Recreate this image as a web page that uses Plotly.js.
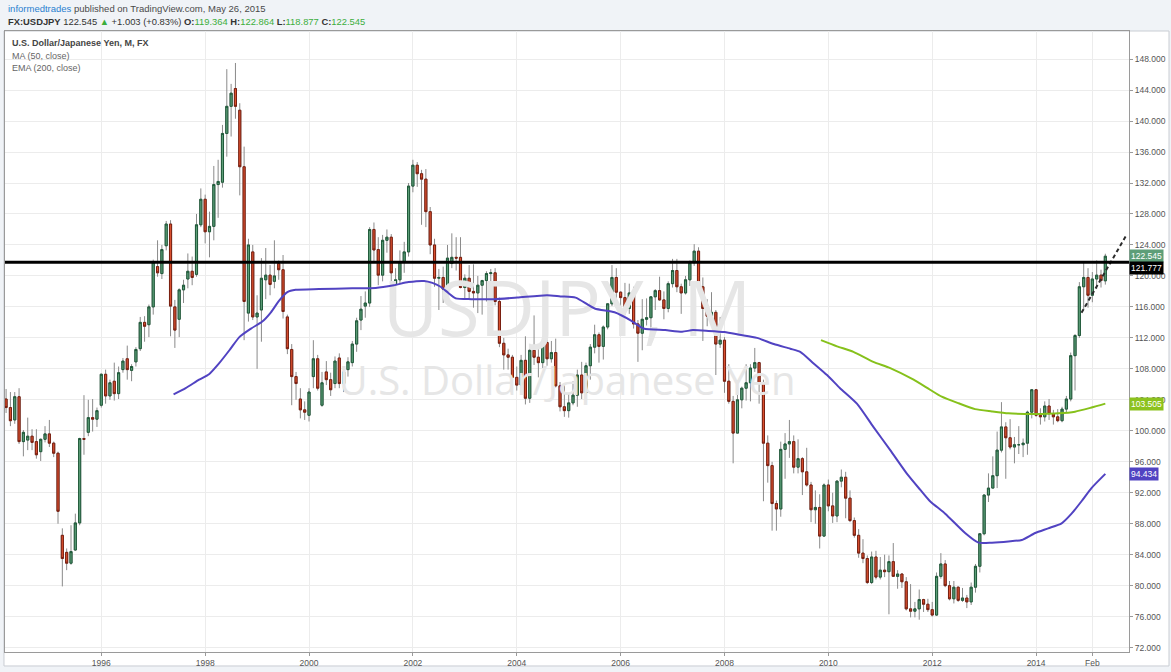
<!DOCTYPE html>
<html>
<head>
<meta charset="utf-8">
<script src="https://cdn.plot.ly/plotly-3.0.1.min.js"></script>
<style>
html,body{margin:0;padding:0;background:#f0f3f7;}
#chart{width:1171px;height:672px;}
</style>
</head>
<body>
<div id="chart"></div>
<script>
// Monthly USD/JPY candles, first candle = March 1994 (index 0), last = May 2015 (index 254)
const opens = [
104.1,103.0,101.4,104.4,98.6,98.8,99.3,98.6,97.3,98.9,
99.6,98.4,97.1,86.5,84.3,82.9,84.6,88.1,99.0,99.8,101.7,101.5,
103.3,107.3,104.5,106.4,104.8,107.9,109.3,107.8,108.9,110.6,114.0,113.7,
116.0,121.2,120.3,123.9,126.7,116.0,114.4,118.2,119.6,120.6,120.2,126.6,
129.9,125.7,126.4,131.8,132.1,138.4,141.9,144.2,141.4,134.1,115.2,123.1,
114.7,115.6,119.5,120.1,119.3,121.6,120.8,114.7,110.5,107.0,104.1,102.7,
102.0,107.0,109.3,103.3,107.6,106.6,106.1,109.4,106.1,107.9,108.8,111.2,
114.3,116.1,116.5,126.0,123.4,120.1,124.6,125.0,119.0,119.5,121.8,123.1,
131.6,134.3,133.2,132.5,128.3,124.0,119.7,119.8,118.3,121.6,122.4,122.4,
118.5,119.7,118.0,117.8,118.8,119.4,120.3,120.4,116.7,111.3,109.8,109.5,
106.9,105.9,109.1,104.2,110.4,109.5,108.8,111.4,109.3,110.1,105.8,103.1,
102.6,103.6,104.6,107.2,104.9,108.4,110.8,112.4,110.9,113.4,116.4,119.8,
117.9,117.2,115.8,117.8,113.8,112.6,114.4,114.6,117.3,118.1,116.9,115.8,
119.0,120.7,118.6,117.8,119.5,121.7,123.2,118.6,115.8,114.8,115.3,111.2,
111.7,106.4,103.8,99.7,104.0,105.5,106.2,108.1,108.8,106.1,98.4,95.5,
90.6,89.9,97.6,98.3,98.6,95.3,96.4,94.7,93.0,89.8,90.1,86.4,
93.0,90.3,89.0,93.5,94.0,91.3,88.4,86.5,84.2,83.5,80.4,83.7,
81.1,82.0,81.8,83.1,81.2,81.5,80.5,77.0,76.7,77.0,78.2,77.6,
76.9,76.2,81.2,82.8,80.0,78.3,79.8,78.1,78.4,77.9,79.8,82.5,
86.7,91.7,92.6,94.2,97.5,100.5,99.1,97.9,98.2,98.2,98.4,102.4,
105.3,102.0,101.8,103.2,102.2,101.8,101.3,102.8,104.1,109.7,112.3,118.6,
119.8,117.5,119.6,120.1,119.364];
const highs = [
105.4,105.0,105.0,105.5,100.1,101.7,100.2,100.2,99.0,100.6,
101.4,98.6,97.3,87.4,84.8,87.8,89.3,99.1,104.6,104.0,104.1,103.0,
107.4,107.9,106.6,108.8,108.3,109.4,111.0,108.6,110.8,114.7,114.8,116.3,
122.1,124.6,124.0,127.1,127.2,116.9,118.4,119.5,122.9,122.5,128.0,131.3,
130.5,128.3,134.2,135.0,139.5,146.7,144.8,147.5,142.3,136.7,124.8,124.0,
117.5,122.3,123.6,121.4,124.6,122.0,122.7,115.0,111.2,107.6,105.5,103.8,
105.5,111.7,109.8,107.6,109.0,107.5,109.6,110.0,108.3,109.5,111.6,114.6,
117.4,118.0,126.3,126.9,125.0,125.3,126.0,125.4,121.0,123.3,124.4,132.0,
135.0,134.7,133.7,133.8,128.9,124.8,120.9,121.2,124.0,125.5,125.0,125.0,
120.2,121.4,121.5,120.0,119.5,120.6,120.9,121.0,117.2,112.0,110.6,109.8,
108.3,109.8,112.2,110.6,114.9,110.9,112.2,111.8,111.6,111.9,106.3,105.9,
104.8,106.4,107.9,108.9,108.8,111.2,113.7,112.7,113.6,116.4,121.4,121.0,
118.0,119.1,119.0,118.6,114.3,117.0,117.1,117.4,118.3,119.9,118.0,119.3,
122.2,122.2,119.0,120.0,122.0,124.1,123.7,119.8,117.0,117.9,115.6,114.7,
112.1,108.6,104.5,105.0,105.7,108.6,108.6,110.7,108.9,106.6,99.4,96.0,
91.0,98.6,99.7,101.4,99.4,98.9,96.6,97.8,93.4,92.3,91.8,93.2,
93.7,92.0,93.6,95.0,94.7,92.3,88.8,87.3,86.0,83.9,84.4,84.5,
83.7,84.0,83.9,85.5,82.0,81.6,81.1,80.2,77.9,79.5,78.3,78.3,
77.9,81.7,84.2,83.3,80.6,80.6,79.9,79.7,78.8,80.4,82.8,86.8,
91.8,94.5,96.7,99.9,103.7,101.1,101.5,99.2,100.6,99.0,102.6,105.4,
105.4,102.9,103.8,104.1,102.7,102.8,103.1,104.5,110.1,112.5,119.2,121.9,
121.0,120.5,122.0,120.8,122.864];
const lows = [
102.3,100.6,100.9,98.3,96.7,97.5,97.5,96.4,96.1,98.5,
97.9,96.6,88.0,79.9,82.0,82.7,84.5,87.8,96.9,99.3,99.9,100.5,
103.0,103.5,104.0,103.9,104.1,107.5,106.6,106.4,108.3,110.3,111.5,112.1,
115.0,119.9,119.6,123.3,112.2,110.7,112.1,116.5,118.4,118.8,119.9,126.3,
124.2,122.4,124.6,127.5,131.4,135.4,138.0,140.3,130.4,111.7,114.1,114.3,
108.0,111.5,117.0,117.5,118.4,119.5,114.5,109.9,103.3,104.0,101.6,101.4,
101.2,105.5,105.2,103.1,105.9,104.5,105.5,105.5,105.0,107.0,108.3,110.2,
113.0,114.6,116.0,121.9,118.8,119.3,123.0,118.0,115.8,119.0,120.4,122.5,
130.8,131.5,126.6,126.3,122.8,118.6,115.6,116.5,117.0,121.0,120.7,118.4,
117.0,116.9,115.9,115.2,115.0,116.7,117.4,116.2,110.8,107.9,107.9,106.8,
105.2,104.9,103.4,103.6,108.5,106.9,108.1,108.4,108.8,105.6,102.5,101.8,
101.7,103.3,103.1,104.1,104.6,106.6,110.0,108.8,109.2,113.1,116.1,115.9,
113.4,115.0,115.1,113.2,108.9,110.4,113.6,113.1,115.6,116.8,114.4,115.3,
118.5,117.9,115.1,117.6,118.7,121.3,118.3,111.6,113.5,114.2,107.2,110.7,
104.9,103.5,95.8,99.7,102.9,103.9,103.8,107.6,103.5,90.9,93.3,87.1,
87.1,88.9,93.8,96.5,94.5,94.5,91.7,92.8,88.2,88.0,84.8,86.3,
89.6,88.1,88.2,92.7,88.7,88.2,86.2,83.6,82.9,80.2,80.2,80.8,
80.8,81.1,76.3,81.2,79.6,79.7,76.8,75.9,75.9,75.6,76.6,76.6,
76.0,76.1,80.9,79.8,78.1,77.7,77.9,77.9,77.1,77.5,79.1,81.7,
86.5,90.8,92.6,92.6,97.2,93.8,97.6,95.8,97.0,96.6,96.9,101.6,
101.8,100.8,101.2,101.4,100.8,101.1,101.1,102.3,103.8,105.2,112.0,115.6,
115.9,116.6,118.3,118.5,118.877];
const closes = [
103.0,101.3,104.4,98.6,99.8,99.3,98.5,96.9,98.9,99.6,
98.4,97.1,89.6,83.5,82.9,84.4,88.1,99.0,98.9,101.7,101.5,102.6,
107.3,104.5,106.2,104.8,107.5,109.0,107.9,108.3,110.5,114.0,113.5,116.0,
121.8,120.4,123.4,126.7,116.1,113.0,118.2,118.8,120.6,119.8,126.6,129.9,
125.7,126.4,131.8,132.2,138.4,141.9,143.6,141.9,134.1,116.7,124.0,114.7,
115.2,119.7,120.1,118.9,120.0,120.8,115.4,110.6,107.0,106.1,102.7,102.4,
105.0,109.3,105.5,106.2,106.6,105.3,109.0,106.1,107.6,108.9,111.2,114.2,
115.7,116.5,126.0,123.35,120.1,124.6,125.0,120.4,119.5,121.8,123.1,131.6,
134.3,133.2,132.5,128.3,124.0,119.7,119.8,118.3,122.3,122.4,122.3,118.5,
119.7,118.0,117.8,118.8,119.4,120.3,120.4,116.7,111.3,109.8,109.5,106.9,
105.9,109.1,104.2,110.4,109.5,108.8,111.4,109.3,110.1,105.8,103.1,102.6,
103.6,104.6,107.2,104.9,108.4,110.8,112.4,110.9,113.4,116.4,119.8,117.9,
117.2,115.8,117.8,113.8,112.6,114.4,114.6,117.3,118.1,116.9,115.8,119.0,
120.7,118.6,117.8,119.5,121.7,123.2,118.6,115.8,114.8,115.3,111.2,111.7,
106.4,103.8,99.7,104.0,105.5,106.2,108.1,108.8,106.1,98.4,95.5,90.6,
89.9,97.6,98.3,98.6,95.3,96.4,94.7,93.0,89.8,90.1,86.4,93.0,
90.3,89.0,93.5,94.0,91.3,88.4,86.5,84.2,83.5,80.4,83.7,81.1,
82.0,81.8,83.1,81.2,81.5,80.5,77.0,76.7,77.0,78.2,77.6,76.9,
76.2,81.2,82.8,80.0,78.3,79.8,78.1,78.4,77.9,79.8,82.5,86.7,
91.7,92.6,94.2,97.5,100.5,99.1,97.9,98.2,98.2,98.4,102.4,105.3,
102.0,101.8,103.2,102.2,101.8,101.3,102.8,104.1,109.7,112.3,118.6,119.8,
117.5,119.6,120.1,119.4,122.545];

// MA (50, close) line (x = month index)
const maX = [38.7,41.5,44.6,46.9,49.2,51.6,53.9,56.6,59.2,61.2,63.1,65.0,66.9,72.3,80.0,85.4,89.6,93.0,96.6,98.5,100.4,102.2,103.9,107.5,112.7,118.1,125.0,128.1,131.6,136.0,140.6,144.5,147.3,152.3,156.2,158.7,162.3,166.0,169.5,173.5,177.4,181.2,183.5,186.6,189.7,192.7,196.6,200.4,204.3,208.1,211.2,213.5,217.0,221.6,224.7,227.8,231.6,234.7,237.8,240.8,243.9,246.2,248.5,250.8,254.0];
const maY = [104.7,105.5,106.6,107.3,108.7,110.4,112.1,113.2,114.1,115.3,116.8,117.9,118.2,118.3,118.4,118.45,118.8,119.2,119.35,119.1,118.6,117.8,117.1,117.0,117.0,117.2,117.5,117.35,117.2,115.8,115.3,114.2,113.2,113.0,112.8,113.0,112.9,112.75,112.4,112.0,111.2,110.6,110.2,108.7,107.2,105.5,103.5,100.5,97.5,94.5,92.4,90.9,89.3,86.8,85.55,85.55,85.7,85.9,86.8,87.4,88.05,89.3,90.9,92.6,94.434];
// EMA (200, close) line
const emaX = [188.3,192.0,195.8,200.4,204.3,209.7,213.5,216.2,220.1,223.9,227.8,231.6,235.4,239.3,243.1,247.0,250.8,254.0];
const emaY = [111.7,110.9,110.2,108.9,108.1,106.6,105.3,104.4,103.55,102.8,102.5,102.25,102.17,102.17,102.25,102.47,103.0,103.505];

// Drawn objects
const levelPrice = 121.777;
const trendX = [248.5, 258.9];
const trendY = [115.25, 125.3];

// Axis ticks
const tickIdx = [22,46,70,94,118,142,166,190,214,238,251];
const tickText = ["1996","1998","2000","2002","2004","2006","2008","2010","2012","2014","Feb"];

// Last values for price tags
const lastClose = closes[closes.length-1];
const lastMA = maY[maY.length-1];
const lastEMA = emaY[emaY.length-1];

const idx = opens.map((_, i) => i);
const bodyHi = opens.map((o, i) => Math.max(o, closes[i]));
const bodyLo = opens.map((o, i) => Math.min(o, closes[i]));

const xRange = [-0.25, 259.47];
const yRange = [71.43, 151.63];
const ySpan = yRange[1] - yRange[0];
const xMid = (xRange[0] + xRange[1]) / 2;

const FONT = 'Liberation Sans, Arial, sans-serif';
const GREEN_TXT = '#3cae3c';

const traces = [
  { // watermark (behind candles)
    type: 'scatter', mode: 'text', x: [xMid, xMid],
    y: [yRange[0] + 0.5395 * ySpan, yRange[0] + 0.4298 * ySpan],
    text: ['USDJPY, M', 'U.S. Dollar/Japanese Yen'],
    textposition: 'middle center',
    textfont: { family: 'Open Sans, sans-serif', size: [76, 40], color: '#e6e6e6' },
    hoverinfo: 'skip', cliponaxis: false
  },
  { // wicks
    type: 'candlestick', x: idx, open: opens, high: highs, low: lows, close: closes,
    increasing: { line: { color: '#8a8a8a', width: 1 }, fillcolor: '#8a8a8a' },
    decreasing: { line: { color: '#8a8a8a', width: 1 }, fillcolor: '#8a8a8a' },
    whiskerwidth: 0, hoverinfo: 'skip'
  },
  { // bodies
    type: 'candlestick', x: idx, open: opens, high: bodyHi, low: bodyLo, close: closes,
    increasing: { line: { color: '#1f5a3a', width: 1 }, fillcolor: '#5d9e78' },
    decreasing: { line: { color: '#7a1f10', width: 1 }, fillcolor: '#d9502f' },
    whiskerwidth: 0, hoverinfo: 'skip'
  },
  {
    type: 'scatter', mode: 'lines', x: maX, y: maY,
    line: { color: '#5143c2', width: 2, shape: 'spline', smoothing: 0.6 }, hoverinfo: 'skip'
  },
  {
    type: 'scatter', mode: 'lines', x: emaX, y: emaY,
    line: { color: '#86c11b', width: 2, shape: 'spline', smoothing: 0.6 }, hoverinfo: 'skip'
  },
  {
    type: 'scatter', mode: 'lines', x: trendX, y: trendY,
    line: { color: '#2b2b2b', width: 2, dash: '4px,3px' }, hoverinfo: 'skip'
  }
];

function tag(y, txt, bg, yshift) {
  return { xref: 'paper', x: 1, xanchor: 'left', xshift: 0, yref: 'y', y: y, yshift: yshift || 0,
    text: txt, showarrow: false, bgcolor: bg, borderpad: 1,
    font: { family: FONT, size: 8.5, color: '#ffffff' } };
}

const annotations = [
  { xref: 'paper', yref: 'paper', x: 0.0005, y: 1.037, xanchor: 'left', yanchor: 'middle', showarrow: false,
    text: "<span style='color:#2a7fd0'>informedtrades</span> published on TradingView.com, May 26, 2015",
    font: { family: FONT, size: 9.5, color: '#4a4a4a' } },
  { xref: 'paper', yref: 'paper', x: 0.0005, y: 1.0153, xanchor: 'left', yanchor: 'middle', showarrow: false,
    text: "<b>FX:USDJPY</b> 122.545 <span style='color:" + GREEN_TXT + "'>▲</span> +1.003 (+0.83%) " +
          "<b>O:</b><span style='color:" + GREEN_TXT + "'>119.364</span> " +
          "<b>H:</b><span style='color:" + GREEN_TXT + "'>122.864</span> " +
          "<b>L:</b><span style='color:" + GREEN_TXT + "'>118.877</span> " +
          "<b>C:</b><span style='color:" + GREEN_TXT + "'>122.545</span>",
    font: { family: FONT, size: 9.4, color: '#333333' } },
  { xref: 'paper', yref: 'paper', x: 0.0045, y: 0.9807, xanchor: 'left', yanchor: 'middle', showarrow: false,
    text: '<b>U.S. Dollar/Japanese Yen, M, FX</b>', font: { family: FONT, size: 9, color: '#444444' } },
  { xref: 'paper', yref: 'paper', x: 0.0045, y: 0.9605, xanchor: 'left', yanchor: 'middle', showarrow: false,
    text: 'MA (50, close)', font: { family: FONT, size: 9, color: '#666666' } },
  { xref: 'paper', yref: 'paper', x: 0.0045, y: 0.9404, xanchor: 'left', yanchor: 'middle', showarrow: false,
    text: 'EMA (200, close)', font: { family: FONT, size: 9, color: '#666666' } },
  tag(lastClose, lastClose.toFixed(3), '#5d9e78', 0),
  tag(levelPrice, levelPrice.toFixed(3), '#000000', -6),
  tag(lastEMA, lastEMA.toFixed(3), '#8cc21e', 0),
  tag(lastMA, lastMA.toFixed(3), '#5143c2', 0)
];

const axisFont = { family: FONT, size: 8.5, color: '#555555' };

const layout = {
  width: 1171, height: 672,
  margin: { l: 5, r: 42, t: 31, b: 20, pad: 0 },
  paper_bgcolor: '#f0f3f7', plot_bgcolor: '#ffffff',
  showlegend: false, hovermode: false, dragmode: false,
  xaxis: {
    range: xRange, tickmode: 'array', tickvals: tickIdx, ticktext: tickText,
    showgrid: true, gridcolor: '#ececec', gridwidth: 1, zeroline: false,
    showline: true, linecolor: '#9a9a9a', linewidth: 1, mirror: true,
    ticks: 'outside', ticklen: 3, tickcolor: '#9a9a9a', tickfont: axisFont,
    rangeslider: { visible: false }, fixedrange: true
  },
  yaxis: {
    range: yRange, side: 'right', tickmode: 'linear', tick0: 72, dtick: 4, tickformat: '.3f',
    showgrid: true, gridcolor: '#ececec', gridwidth: 1, zeroline: false,
    showline: true, linecolor: '#9a9a9a', linewidth: 1, mirror: true,
    ticks: 'outside', ticklen: 3, tickcolor: '#9a9a9a', tickfont: axisFont, fixedrange: true
  },
  shapes: [
    { type: 'rect', xref: 'paper', yref: 'paper', x0: -0.0009, x1: 1.0356, y0: -0.0225, y1: 1,
      fillcolor: '#ffffff', line: { color: '#c9cdd3', width: 1 }, layer: 'below' },
    { type: 'line', xref: 'paper', yref: 'y', x0: 0, x1: 1, y0: levelPrice, y1: levelPrice,
      line: { color: '#000000', width: 3 } }
  ],
  annotations: annotations
};

Plotly.newPlot('chart', traces, layout, { displayModeBar: false, staticPlot: true });
</script>
</body>
</html>
